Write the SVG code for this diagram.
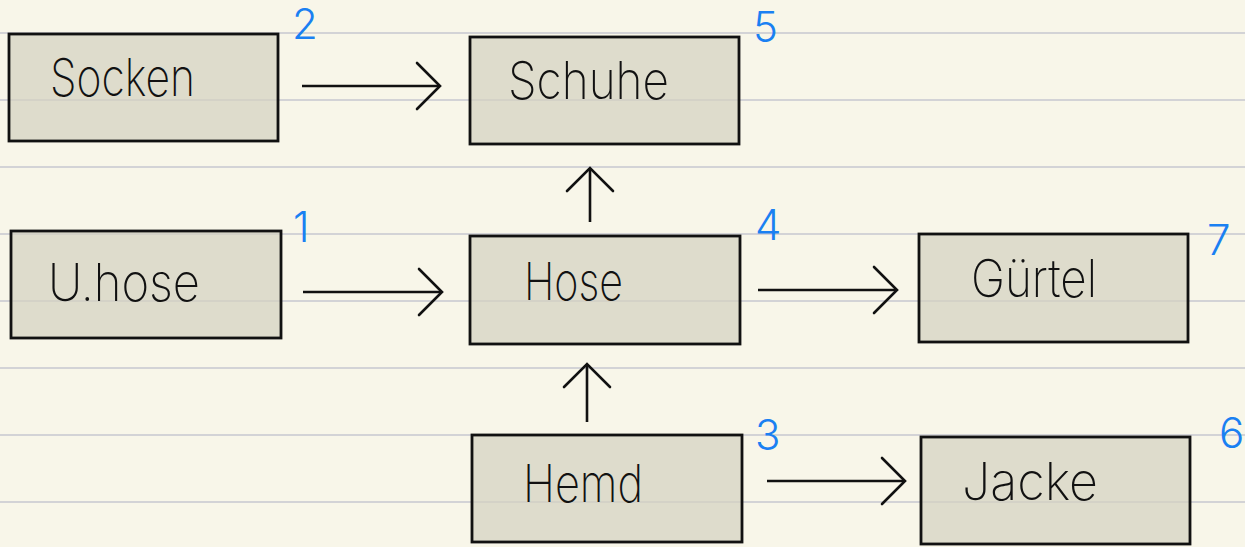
<svg xmlns="http://www.w3.org/2000/svg" width="1245" height="547" viewBox="0 0 1245 547">
  <style>
    .paper { fill: #f8f6e9; }
    .rule { stroke: #d3d3d6; stroke-width: 2; }
    .box { fill: #d4d1c0; fill-opacity: 0.72; stroke: #111; stroke-width: 2.8; }
    .label { font-family: "Inter", "Lato", "Liberation Sans", sans-serif; font-weight: 200; font-size: 52px; fill: #111; }
    .num { font-family: "Inter", "Lato", "Liberation Sans", sans-serif; font-weight: 300; font-size: 42px; fill: #1a80f2; }
    .edge { fill: none; stroke: #111; stroke-width: 2.6; marker-end: url(#chevron); }
  </style>
  <defs>
    <marker id="chevron" markerUnits="userSpaceOnUse" viewBox="-26 -26 30 52" refX="0" refY="0" markerWidth="30" markerHeight="52" orient="auto" overflow="visible">
      <path d="M-23,-23 L0,0 L-23,23" fill="none" stroke="#111" stroke-width="2.6" stroke-linecap="round" stroke-linejoin="miter"/>
    </marker>
  </defs>

  <!-- ruled notebook page -->
  <g id="paper">
    <rect class="paper" x="0" y="0" width="1245" height="547"/>
    <line class="rule" x1="0" y1="33" x2="1245" y2="33"/>
    <line class="rule" x1="0" y1="100" x2="1245" y2="100"/>
    <line class="rule" x1="0" y1="167" x2="1245" y2="167"/>
    <line class="rule" x1="0" y1="234" x2="1245" y2="234"/>
    <line class="rule" x1="0" y1="301" x2="1245" y2="301"/>
    <line class="rule" x1="0" y1="368" x2="1245" y2="368"/>
    <line class="rule" x1="0" y1="435" x2="1245" y2="435"/>
    <line class="rule" x1="0" y1="502" x2="1245" y2="502"/>
  </g>

  <!-- dependency arrows -->
  <g id="connectors">
    <path class="edge" d="M302,86 H440"/>
    <path class="edge" d="M303,292 H442"/>
    <path class="edge" d="M758,290 H897"/>
    <path class="edge" d="M767,481 H905"/>
    <path class="edge" d="M590,222 V168"/>
    <path class="edge" d="M587,422 V364"/>
  </g>

  <g id="socken">
    <rect class="box" x="9" y="34" width="269" height="107"/>
    <text class="label" x="50" y="96" textLength="145" lengthAdjust="spacingAndGlyphs">Socken</text>
    <text class="num" x="292" y="39">2</text>
  </g>

  <g id="schuhe">
    <rect class="box" x="470" y="37" width="269" height="107"/>
    <text class="label" x="508" y="99" textLength="161" lengthAdjust="spacingAndGlyphs">Schuhe</text>
    <text class="num" x="753" y="42">5</text>
  </g>

  <g id="unterhose">
    <rect class="box" x="11" y="231" width="270" height="107"/>
    <text class="label" x="48" y="301" textLength="152" lengthAdjust="spacingAndGlyphs">U.hose</text>
    <text class="num" x="293" y="242">1</text>
  </g>

  <g id="hose">
    <rect class="box" x="470" y="236" width="270" height="108"/>
    <text class="label" x="524" y="300" textLength="99" lengthAdjust="spacingAndGlyphs">Hose</text>
    <text class="num" x="755" y="240">4</text>
  </g>

  <g id="guertel">
    <rect class="box" x="919" y="234" width="269" height="108"/>
    <text class="label" x="971" y="297" textLength="126" lengthAdjust="spacingAndGlyphs">Gürtel</text>
    <text class="num" x="1207" y="255">7</text>
  </g>

  <g id="hemd">
    <rect class="box" x="472" y="435" width="270" height="107"/>
    <text class="label" x="523" y="502" textLength="120" lengthAdjust="spacingAndGlyphs">Hemd</text>
    <text class="num" x="755" y="450">3</text>
  </g>

  <g id="jacke">
    <rect class="box" x="921" y="437" width="269" height="107"/>
    <text class="label" x="962" y="500" textLength="136" lengthAdjust="spacingAndGlyphs">Jacke</text>
    <text class="num" x="1219" y="448">6</text>
  </g>
</svg>
